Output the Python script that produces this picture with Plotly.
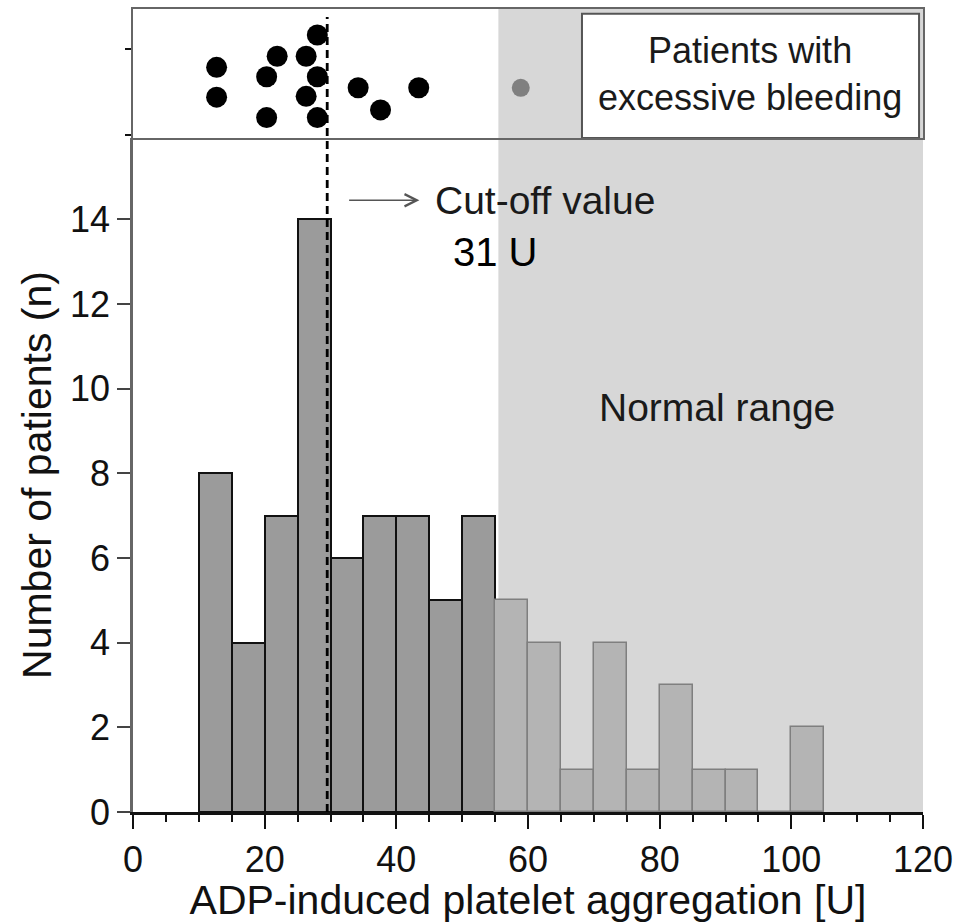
import plotly.graph_objects as go

# ---- data ----
bin_left = [10, 15, 20, 25, 30, 35, 40, 45, 50, 55, 60, 65, 70, 75, 80, 85, 90, 95, 100]
counts = [8, 4, 7, 14, 6, 7, 7, 5, 7, 5, 4, 1, 4, 1, 3, 1, 1, 0, 2]
bin_width = 5
normal_start = 55.5
cutoff_line = 29.5

bleed_x = [12.7, 12.7, 21.9, 20.3, 20.3, 26.3, 28.0, 28.0, 26.3, 28.0, 34.2, 37.6, 43.4]
bleed_y = [0.79, 0.44, 0.92, 0.68, 0.20, 0.92, 1.17, 0.68, 0.45, 0.20, 0.55, 0.29, 0.55]
bleed_normal_x = [58.9]
bleed_normal_y = [0.55]

x_ticks = [0, 20, 40, 60, 80, 100, 120]
y_ticks = [0, 2, 4, 6, 8, 10, 12, 14]

FONT = "Liberation Sans, Arial, sans-serif"

dark_x = [l + bin_width / 2 for l, c in zip(bin_left, counts) if l < 55]
dark_c = [c for l, c in zip(bin_left, counts) if l < 55]
light_x = [l + bin_width / 2 for l, c in zip(bin_left, counts) if l >= 55]
light_c = [c for l, c in zip(bin_left, counts) if l >= 55]

fig = go.Figure()
fig.add_trace(go.Bar(x=dark_x, y=dark_c, width=bin_width, marker=dict(color="#9b9b9b", line=dict(color="#111111", width=2)),
                     xaxis="x", yaxis="y", showlegend=False))
fig.add_trace(go.Bar(x=light_x, y=light_c, width=bin_width, marker=dict(color="#b4b4b4", line=dict(color="#7f7f7f", width=1.5)),
                     xaxis="x", yaxis="y", showlegend=False))
fig.add_trace(go.Scatter(x=bleed_x, y=bleed_y, mode="markers", marker=dict(color="black", size=21),
                         xaxis="x2", yaxis="y2", showlegend=False))
fig.add_trace(go.Scatter(x=bleed_normal_x, y=bleed_normal_y, mode="markers", marker=dict(color="#808080", size=18),
                         xaxis="x2", yaxis="y2", showlegend=False))

shapes = [
    dict(type="rect", xref="x", yref="y", x0=normal_start, x1=120, y0=0, y1=15.92,
         fillcolor="#d7d7d7", line=dict(width=0), layer="below"),
    dict(type="rect", xref="x2", yref="y2", x0=normal_start, x1=120, y0=-0.04, y1=1.475,
         fillcolor="#d7d7d7", line=dict(width=0), layer="below"),
    dict(type="rect", xref="x2", yref="y2", x0=68.2, x1=119.4, y0=-0.04, y1=1.42,
         fillcolor="white", line=dict(color="#555555", width=2), layer="below"),
    dict(type="line", xref="x", yref="paper", x0=cutoff_line, x1=cutoff_line, y0=0, y1=0.99,
         line=dict(color="black", width=2.8, dash="8px,5px")),
]

annotations = [
    dict(x=43.5, y=14.45, ax=32.6, ay=14.45, xref="x", yref="y", axref="x", ayref="y",
         showarrow=True, arrowhead=5, arrowsize=1.6, arrowwidth=1.5, arrowcolor="#555555", text=""),
    dict(x=45.5, y=14.45, xref="x", yref="y", text="Cut-off value", showarrow=False,
         xanchor="left", yanchor="middle", font=dict(family=FONT, size=39, color="#1a1a1a")),
    dict(x=55.1, y=13.22, xref="x", yref="y", text="31 U", showarrow=False,
         xanchor="center", yanchor="middle", font=dict(family=FONT, size=40, color="black")),
    dict(x=88.7, y=9.56, xref="x", yref="y", text="Normal range", showarrow=False,
         xanchor="center", yanchor="middle", font=dict(family=FONT, size=39, color="#1a1a1a")),
    dict(x=93.7, y=0.71, xref="x2", yref="y2", text="Patients with<br>excessive bleeding", showarrow=False,
         xanchor="center", yanchor="middle", font=dict(family=FONT, size=36, color="#1a1a1a")),
]

fig.update_layout(
    width=967, height=923,
    margin=dict(l=133, r=44, t=7, b=109),
    paper_bgcolor="white", plot_bgcolor="rgba(0,0,0,0)",
    font=dict(family=FONT, color="#111111"),
    bargap=0,
    shapes=shapes, annotations=annotations,
    xaxis=dict(domain=[0, 1], range=[0, 120], anchor="y",
               tickmode="array", tickvals=x_ticks, ticktext=[str(v) for v in x_ticks],
               ticks="outside", ticklen=14, tickwidth=2, tickcolor="#111111",
               minor=dict(dtick=5, ticks="outside", ticklen=7, tickwidth=2, tickcolor="#111111"),
               showline=True, linecolor="#111111", linewidth=2.5, showgrid=False, zeroline=False,
               tickfont=dict(family=FONT, size=36, color="#111111"),
               title=dict(text="ADP-induced platelet aggregation [U]", font=dict(family=FONT, size=41, color="#111111"), standoff=7)),
    yaxis=dict(domain=[0, 0.8393], range=[0, 15.92], anchor="x",
               tickmode="array", tickvals=y_ticks, ticktext=[str(v) for v in y_ticks],
               ticks="outside", ticklen=13, tickwidth=2, tickcolor="#444444",
               showline=True, linecolor="#666666", linewidth=2.5, showgrid=False, zeroline=False,
               tickfont=dict(family=FONT, size=36, color="#111111"),
               title=dict(text="Number of patients (n)", font=dict(family=FONT, size=41, color="#111111"), standoff=6)),
    xaxis2=dict(domain=[0, 1], range=[0, 120], anchor="y2",
                showticklabels=False, ticks="", showline=True, mirror=True, linecolor="#666666", linewidth=2,
                showgrid=False, zeroline=False),
    yaxis2=dict(domain=[0.8393, 1], range=[-0.04, 1.475], anchor="x2",
                tickmode="array", tickvals=[0, 1], showticklabels=False, ticks="outside", ticklen=6, tickwidth=2,
                tickcolor="#111111", showline=True, mirror=True, linecolor="#666666", linewidth=2,
                showgrid=False, zeroline=False),
)

fig.write_html("out.html", config={"displayModeBar": False},
               post_script="document.body.style.margin='0px';document.body.style.overflow='hidden';")
